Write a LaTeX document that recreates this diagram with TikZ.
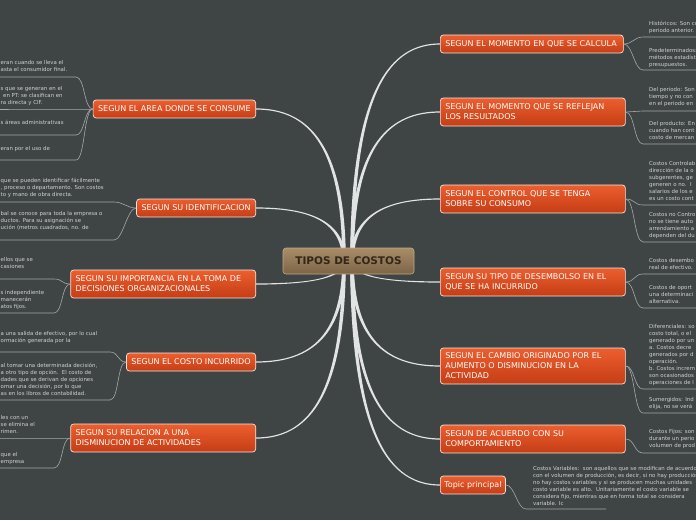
\documentclass[tikz,border=0pt]{standalone}
\usepackage{fontspec}
\setmainfont{DejaVu Sans}
\usetikzlibrary{calc}
\definecolor{bg}{HTML}{3F4444}
\definecolor{branchc}{HTML}{E2E4E4}
\definecolor{leafc}{HTML}{A4A8A8}
\definecolor{leaftxt}{HTML}{D0D2D2}
\definecolor{topA}{HTML}{EC5E2E}
\definecolor{topB}{HTML}{C53D15}
\definecolor{topborder}{HTML}{F4E6E0}
\definecolor{cenA}{HTML}{A98D69}
\definecolor{cenB}{HTML}{7C6446}
\definecolor{cenborder}{HTML}{C2AA84}
\definecolor{centxt}{HTML}{33271A}
\newcommand\topicfont{\fontsize{8}{10}\selectfont}
\newcommand\leaffont{\fontsize{5.4}{7}\selectfont}
\tikzset{
  topic/.style={draw=topborder, line width=0.7pt, rounded corners=3pt,
    top color=topA, bottom color=topB, text=white, font=\topicfont,
    align=left, inner xsep=5pt, inner ysep=0pt},
  multi/.style={text width=175pt},
  hubnode/.style={draw=cenborder, line width=0.6pt, rounded corners=3pt,
    top color=cenA, bottom color=cenB, text=centxt,
    font=\bfseries\fontsize{10.5}{12}\selectfont,
    minimum width=131pt, minimum height=26pt},
  leaf/.style={text=leaftxt, font=\leaffont, align=left, inner sep=0pt, anchor=north west},
  leafline/.style={draw=leafc, line width=0.6pt},
  branchfill/.style={fill=branchc},
}
% tapered main branch: #1 hub, #2 target anchor, #3 side sign
\newcommand\branch[3]{%
  \coordinate (bk) at (#1 |- #2);
  \fill[branchfill] ($(#1)+(-1.8,0)$) .. controls ($(#1)!0.8!(bk)+(-1.8,0)$) and ($(bk)!0.45!(#2)+(0,{-0.6*(#3)})$) .. ($(#2)+(0,{-0.6*(#3)})$)
    -- ($(#2)+(0,{0.6*(#3)})$) .. controls ($(bk)!0.45!(#2)+(0,{0.6*(#3)})$) and ($(#1)!0.8!(bk)+(1.8,0)$) .. ($(#1)+(1.8,0)$) -- cycle;}
% leaf brackets
\newcommand\leafR[2]{\draw[leafline] (#1.east) .. controls +(9,0) and +(-9,0) .. (#2) -- ++(80,0);}
\newcommand\leafL[2]{\draw[leafline] (#1.west) .. controls +(-9,0) and +(9,0) .. (#2) -- ++(-140,0);}
\begin{document}
\begin{tikzpicture}[x=1pt,y=-1pt]
\fill[bg] (0,0) rectangle (696,520);
\useasboundingbox (0,0) rectangle (696,520);
\coordinate (hubR) at (352,261);
\coordinate (hubL) at (344,261);

% ---------- topic nodes, right ----------
\node[topic, anchor=west, text width=173pt, minimum height=18pt] (r1) at (440,44) {SEGUN EL MOMENTO EN QUE SE CALCULA};
\node[topic, anchor=west, multi, minimum height=28pt] (r2) at (440,112) {SEGUN EL MOMENTO QUE SE REFLEJAN\\LOS RESULTADOS};
\node[topic, anchor=west, multi, minimum height=28pt] (r3) at (440,199) {SEGUN EL CONTROL QUE SE TENGA\\SOBRE SU CONSUMO};
\node[topic, anchor=west, multi, minimum height=28pt] (r4) at (440,282) {SEGUN SU TIPO DE DESEMBOLSO EN EL\\QUE SE HA INCURRIDO};
\node[topic, anchor=west, multi, minimum height=36pt] (r5) at (440,366) {SEGUN EL CAMBIO ORIGINADO POR EL\\AUMENTO O DISMINUCION EN LA\\ACTIVIDAD};
\node[topic, anchor=west, multi, minimum height=28pt] (r6) at (440,439) {SEGUN DE ACUERDO CON SU\\COMPORTAMIENTO};
\node[topic, anchor=west, inner xsep=4pt, minimum height=18pt] (r7) at (440,485) {Topic principal};

% ---------- topic nodes, left ----------
\node[topic, anchor=east, minimum height=18pt] (l1) at (256,109) {SEGUN EL AREA DONDE SE CONSUME};
\node[topic, anchor=east, minimum height=18pt] (l2) at (256,208) {SEGUN SU IDENTIFICACION};
\node[topic, anchor=east, multi, minimum height=28pt] (l3) at (256,284) {SEGUN SU IMPORTANCIA EN LA TOMA DE\\DECISIONES ORGANIZACIONALES};
\node[topic, anchor=east, minimum height=18pt] (l4) at (256,362) {SEGUN EL COSTO INCURRIDO};
\node[topic, anchor=east, multi, minimum height=28pt] (l5) at (256,438) {SEGUN SU RELACION A UNA\\DISMINUCION DE ACTIVIDADES};

% ---------- main branches ----------
\begin{scope}[on background layer/.style={}]
\branch{hubR}{r1.west}{1}
\branch{hubR}{r2.west}{1}
\branch{hubR}{r3.west}{1}
\branch{hubR}{r4.west}{-1}
\branch{hubR}{r5.west}{-1}
\branch{hubR}{r6.west}{-1}
\branch{hubR}{r7.west}{-1}
\branch{hubL}{l1.east}{-1}
\branch{hubL}{l2.east}{-1}
\branch{hubL}{l3.east}{1}
\branch{hubL}{l4.east}{1}
\branch{hubL}{l5.east}{1}
\end{scope}

\node[hubnode] (c) at (348.5,261) {TIPOS DE COSTOS};

% ---------- right leaves ----------
\node[leaf] (r1a) at (649,21) {Históricos: Son co\\periodo anterior.};
\node[leaf] (r1b) at (649,48) {Predeterminados:\\métodos estadíst\\presupuestos.};
\node[leaf] (r2a) at (649,87) {Del periodo: Son\\tiempo y no con\\en el periodo en};
\node[leaf] (r2b) at (649,121) {Del producto: En\\cuando han cont\\costo de mercan};
\node[leaf] (r3a) at (649,161) {Costos Controlab\\dirección de la o\\subgerentes, ge\\generen o no.\ \ I\\salarios de los e\\es un costo cont};
\node[leaf] (r3b) at (649,212) {Costos no Contro\\no se tiene auto\\arrendamiento a\\dependen del du};
\node[leaf] (r4a) at (649,258) {Costos desembo\\real de efectivo.};
\node[leaf] (r4b) at (649,285) {Costos de oport\\una determinaci\\alternativa.};
\node[leaf] (r5a) at (649,324) {Diferenciales: so\\costo total, o el\\generado por un\\a. Costos decre\\generados por d\\operación.\\b. Costos increm\\son ocasionados\\operaciones de l};
\node[leaf] (r5b) at (649,397) {Sumergidos: Ind\\elija, no se verá};
\node[leaf] (r6a) at (649,429) {Costos Fijos: son\\durante un perio\\volumen de prod};
\node[leaf] (r7a) at (533,466) {Costos Variables:\ \ son aquellos que se modifican de acuerdo\\con el volumen de producción, es decir, si no hay producción\\no hay costos variables y si se producen muchas unidades\\costo variable es alto.\ \ Unitariamente el costo variable se\\considera fijo, mientras que en forma total se considera\\variable. Ic};

\coordinate (ur1a) at (643,37);
\coordinate (ur1b) at (643,70);
\coordinate (ur2a) at (643,111);
\coordinate (ur2b) at (643,144);
\coordinate (ur3a) at (643,205);
\coordinate (ur3b) at (643,242);
\coordinate (ur4a) at (643,274);
\coordinate (ur4b) at (643,308);
\coordinate (ur5a) at (643,389);
\coordinate (ur5b) at (643,413);
\coordinate (ur6a) at (643,453);
\coordinate (ur7a) at (526,509);
\leafR{r1}{ur1a}
\leafR{r1}{ur1b}
\leafR{r2}{ur2a}
\leafR{r2}{ur2b}
\leafR{r3}{ur3a}
\leafR{r3}{ur3b}
\leafR{r4}{ur4a}
\leafR{r4}{ur4b}
\leafR{r5}{ur5a}
\leafR{r5}{ur5b}
\leafR{r6}{ur6a}
\leafR{r7}{ur7a}

% ---------- left leaves ----------
\node[leaf] (l1a) at (0.5,60) {eran cuando se lleva el\\asta el consumidor final.};
\node[leaf] (l1b) at (0.5,86) {s que se generan en el\\\hspace*{2.5pt}en PT: se clasifican en\\ra directa y CIF.};
\node[leaf] (l1c) at (0.5,120) {s áreas administrativas};
\node[leaf] (l1d) at (0.5,146) {eran por el uso de};
\node[leaf] (l2a) at (0.5,178) {que se pueden identificar fácilmente\\, proceso o departamento. Son costos\\to y mano de obra directa.};
\node[leaf] (l2b) at (0.5,211) {bal se conoce para toda la empresa o\\ductos. Para su asignación se\\ución (metros cuadrados, no. de};
\node[leaf] (l3a) at (0.5,257) {ellos que se\\casiones};
\node[leaf] (l3b) at (0.5,290) {s independiente\\manecerán\\atos fijos.};
\node[leaf] (l4a) at (0.5,331) {a una salida de efectivo, por lo cual\\ormación generada por la};
\node[leaf] (l4b) at (0.5,363) {al tomar una determinada decisión,\\a otro tipo de opción.\ \ El costo de\\dades que se derivan de opciones\\omar una decisión, por lo que\\as en los libros de contabilidad.};
\node[leaf] (l5a) at (0.5,415) {les con un\\se elimina el\\rimen.};
\node[leaf] (l5b) at (0.5,452) {que el\\empresa};

\coordinate (ul1a) at (76,77);
\coordinate (ul1b) at (78,109);
\coordinate (ul1c) at (76,135);
\coordinate (ul1d) at (76,160);
\coordinate (ul2a) at (114,202);
\coordinate (ul2b) at (114,240);
\coordinate (ul3a) at (54,279);
\coordinate (ul3b) at (54,313);
\coordinate (ul4a) at (110,352);
\coordinate (ul4b) at (110,400);
\coordinate (ul5a) at (54,438);
\coordinate (ul5b) at (54,468);
\leafL{l1}{ul1a}
\leafL{l1}{ul1b}
\leafL{l1}{ul1c}
\leafL{l1}{ul1d}
\leafL{l2}{ul2a}
\leafL{l2}{ul2b}
\leafL{l3}{ul3a}
\leafL{l3}{ul3b}
\leafL{l4}{ul4a}
\leafL{l4}{ul4b}
\leafL{l5}{ul5a}
\leafL{l5}{ul5b}
\end{tikzpicture}
\end{document}
